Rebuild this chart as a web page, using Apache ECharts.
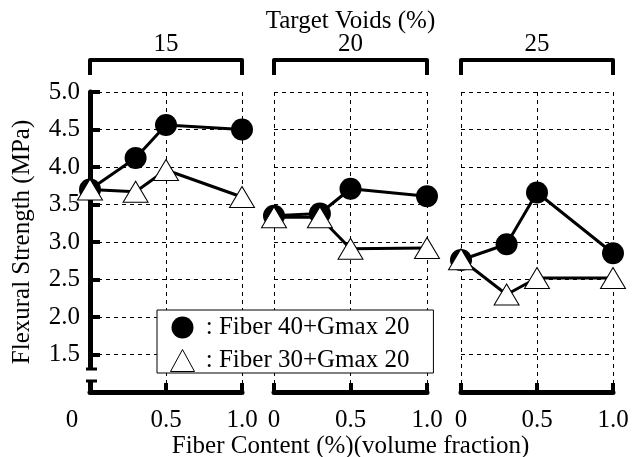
<!DOCTYPE html>
<html>
<head>
<meta charset="utf-8">
<script src="https://cdn.jsdelivr.net/npm/echarts@6/dist/echarts.min.js"></script>
<style>
  html, body { margin: 0; padding: 0; background: #fff; }
  #chart { width: 641px; height: 457px; }
</style>
</head>
<body>
<div id="chart"></div>
<script>
// fiber content (%) on each panel
var fiberX = [0, 0.3, 0.5, 1.0]
// target voids of the three panels
var voids = ['15', '20', '25']
// flexural strength (MPa), circles = Fiber 40+Gmax 20, triangles = Fiber 30+Gmax 20
var fiber40 = [
  [3.70, 4.12, 4.56, 4.50],
  [3.35, 3.38, 3.71, 3.61],
  [2.76, 2.97, 3.66, 2.85]
]
var fiber30 = [
  [3.70, 3.67, 3.96, 3.60],
  [3.33, 3.33, 2.91, 2.92],
  [2.77, 2.30, 2.52, 2.52]
]
var seriesNames = ['Fiber 40+Gmax 20', 'Fiber 30+Gmax 20']

var FONT = "'Liberation Serif', 'Times New Roman', serif"
var panelLeft = [90, 274, 461]
var panelWidth = [152, 153, 152]

function pairs (vals) {
  return fiberX.map(function (x, i) { return [x, vals[i]] })
}

var dashed = { show: true, lineStyle: { color: '#000', width: 1, type: [4, 4] } }

var grid = [], xAxis = [], yAxis = [], series = []

voids.forEach(function (v, i) {
  // fixed plot boxes, labels/names may sit outside
  grid.push({ left: panelLeft[i], top: 92, width: panelWidth[i], height: 300, containLabel: false, outerBoundsMode: 'none' })

  // bottom axis (fiber content)
  xAxis.push({
    type: 'value', gridIndex: i, position: 'bottom',
    min: 0, max: 1, interval: 0.5,
    axisLine: { lineStyle: { color: '#000', width: 5 } },
    axisTick: { inside: true, length: 9, lineStyle: { color: '#000', width: 4 } },
    axisLabel: {
      margin: 16, color: '#000', fontFamily: FONT, fontSize: 25,
      formatter: function (val) {
        if (val === 0) return i === 0 ? '{z|0}' : '0'
        return val.toFixed(1)
      },
      rich: { z: { fontFamily: FONT, fontSize: 25, color: '#000', padding: [0, 36, 0, 0] } }
    },
    splitLine: dashed,
    name: i === 1 ? 'Fiber Content (%)(volume fraction)' : '',
    nameLocation: 'middle', nameGap: 42, nameMoveOverlap: false,
    nameTextStyle: { color: '#000', fontFamily: FONT, fontSize: 25 }
  })

  yAxis.push({
    type: 'value', gridIndex: i,
    min: 1, max: 5, interval: 0.5,
    axisLine: { show: i === 0, lineStyle: { color: '#000', width: 5 } },
    axisTick: { show: i === 0, inside: true, length: 10, lineStyle: { color: '#000', width: 4 } },
    axisLabel: {
      show: i === 0, margin: 10, color: '#000', fontFamily: FONT, fontSize: 25,
      formatter: function (val) { return val === 1 ? '' : val.toFixed(1) }
    },
    splitLine: dashed,
    name: i === 0 ? 'Flexural Strength (MPa)' : '',
    nameLocation: 'middle', nameGap: 55, nameMoveOverlap: false,
    nameTextStyle: { color: '#000', fontFamily: FONT, fontSize: 25 }
  })

  series.push({
    name: seriesNames[0], type: 'line', xAxisIndex: i, yAxisIndex: i,
    data: pairs(fiber40[i]),
    symbol: 'circle', symbolSize: 22,
    itemStyle: { color: '#000' },
    lineStyle: { color: '#000', width: 3 },
    z: 2
  })
  series.push({
    name: seriesNames[1], type: 'line', xAxisIndex: i, yAxisIndex: i,
    data: pairs(fiber30[i]),
    symbol: 'triangle', symbolSize: [25, 21],
    itemStyle: { color: '#fff', borderColor: '#000', borderWidth: 1 },
    lineStyle: { color: '#000', width: 3 },
    z: 3
  })
})

// top brackets (target voids)
voids.forEach(function (v, i) {
  xAxis.push({
    type: 'value', gridIndex: i, position: 'top', offset: 32,
    min: 0, max: 1, interval: 1,
    axisLine: { lineStyle: { color: '#000', width: 4 } },
    axisTick: { inside: true, length: 15, lineStyle: { color: '#000', width: 4 } },
    axisLabel: { show: false },
    splitLine: { show: false },
    name: i === 1 ? 'Target Voids (%)\n' + v : v,
    nameLocation: 'middle', nameGap: 4,
    nameTextStyle: { color: '#000', fontFamily: FONT, fontSize: 25, lineHeight: 23 }
  })
})

var chart = echarts.init(document.getElementById('chart'))
chart.setOption({
  animation: false,
  backgroundColor: '#fff',
  grid: grid,
  xAxis: xAxis,
  yAxis: yAxis,
  legend: {
    left: 157, top: 310,
    orient: 'vertical',
    selectedMode: false,
    backgroundColor: '#fff',
    borderColor: '#000', borderWidth: 1,
    padding: [5, 24, 0, 13],
    itemGap: 8, itemWidth: 24, itemHeight: 22,
    textStyle: { color: '#000', fontFamily: FONT, fontSize: 25 },
    formatter: function (name) { return ' : ' + name },
    data: [
      { name: seriesNames[0], icon: 'circle', itemStyle: { color: '#000' } },
      { name: seriesNames[1], icon: 'triangle', itemStyle: { color: '#fff', borderColor: '#000', borderWidth: 1 } }
    ]
  },
  series: series
})

// axis break on the left axis, near the bottom
var p = chart.convertToPixel({ xAxisIndex: 0, yAxisIndex: 0 }, [0, 1])
chart.setOption({
  graphic: [
    { type: 'rect', shape: { x: p[0] - 4, y: p[1] - 22, width: 8, height: 10 }, style: { fill: '#fff' }, z: 10 },
    { type: 'line', shape: { x1: p[0] - 4, y1: p[1] - 23, x2: p[0] + 7, y2: p[1] - 23 }, style: { stroke: '#000', lineWidth: 3 }, z: 10 },
    { type: 'line', shape: { x1: p[0] - 4, y1: p[1] - 11, x2: p[0] + 7, y2: p[1] - 11 }, style: { stroke: '#000', lineWidth: 3 }, z: 10 }
  ]
})
window.onresize = chart.resize
</script>
</body>
</html>
